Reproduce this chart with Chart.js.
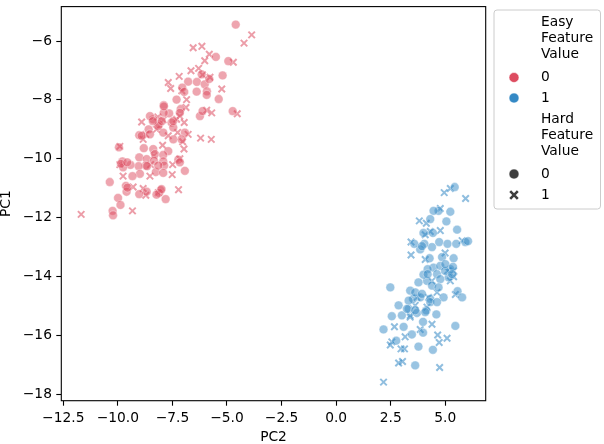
<!DOCTYPE html>
<html>
<head>
<meta charset="utf-8">
<script src="https://cdn.jsdelivr.net/npm/chart.js@4.4.0/dist/chart.umd.min.js"></script>
<style>
  html, body { margin: 0; padding: 0; background: #fff; }
  #wrap { width: 604px; height: 444px; }
</style>
</head>
<body>
<div id="wrap"><canvas id="pcaChart" width="604" height="444"></canvas></div>
<script>
// tick values and legend text
const xTicks = [-12.5, -10, -7.5, -5, -2.5, 0, 2.5, 5];
const yTicks = [-18, -16, -14, -12, -10, -8, -6];
const easyTitle = ['Easy', 'Feature', 'Value'];
const hardTitle = ['Hard', 'Feature', 'Value'];
const levels = ['0', '1'];

// points: [PC2, PC1]
const easy0Hard0 = [[-4.60,-5.44],[-5.51,-6.54],[-4.94,-6.68],[-5.20,-7.17],[-6.16,-7.13],[-6.78,-7.38],[-6.38,-7.39],[-6.02,-7.47],[-7.05,-7.58],[-6.39,-7.72],[-5.92,-7.71],[-5.93,-7.83],[-7.31,-7.99],[-5.38,-7.97],[-7.12,-8.31],[-7.90,-8.18],[-6.24,-8.55],[-6.12,-8.38],[-4.74,-8.38],[-7.16,-8.44],[-7.65,-8.46],[-7.90,-8.44],[-8.38,-8.66],[-8.53,-8.55],[-8.11,-8.83],[-7.54,-8.77],[-7.46,-8.94],[-8.59,-9.00],[-9.02,-9.20],[-7.92,-9.11],[-7.46,-9.34],[-6.93,-9.11],[-7.08,-9.34],[-8.81,-9.64],[-9.95,-9.61],[-8.38,-9.67],[-8.30,-9.84],[-7.69,-9.74],[-7.92,-9.87],[-9.02,-9.95],[-8.68,-10.01],[-8.34,-10.07],[-8.72,-10.23],[-9.05,-10.25],[-7.92,-10.09],[-7.88,-10.23],[-7.23,-10.03],[-9.42,-10.21],[-9.79,-10.09],[-9.76,-10.29],[-8.26,-10.45],[-7.92,-10.48],[-8.99,-10.51],[-6.93,-10.41],[-9.33,-10.59],[-10.37,-10.79],[-9.63,-10.92],[-8.68,-11.12],[-9.02,-11.20],[-9.60,-11.12],[-8.04,-11.07],[-8.11,-11.16],[-8.23,-11.22],[-7.81,-11.37],[-9.99,-11.33],[-9.88,-11.57],[-10.24,-11.77],[-10.22,-11.92],[-9.56,-10.98],[-8.00,-11.03],[-9.86,-10.17],[-9.57,-10.12],[-8.15,-10.23],[-7.16,-10.12],[-8.91,-9.22],[-8.53,-9.17],[-8.15,-8.89],[-7.46,-8.72],[-8.40,-8.72],[-7.89,-8.22],[-8.66,-10.25],[-5.81,-7.29],[-6.96,-7.73],[-7.99,-8.72]];
const easy0Hard1 = [[-3.87,-5.79],[-4.22,-6.07],[-6.55,-6.23],[-6.15,-6.18],[-5.81,-6.45],[-6.02,-6.67],[-4.71,-6.72],[-6.30,-6.93],[-6.65,-7.01],[-5.78,-7.23],[-7.19,-7.20],[-7.69,-7.41],[-7.58,-7.61],[-7.07,-7.69],[-5.24,-7.63],[-6.85,-7.99],[-6.88,-8.26],[-5.93,-8.35],[-5.70,-8.44],[-4.53,-8.47],[-8.17,-8.58],[-8.91,-8.75],[-7.92,-8.68],[-7.31,-8.66],[-6.96,-8.77],[-8.23,-9.00],[-8.84,-9.34],[-7.69,-9.22],[-6.78,-9.17],[-7.03,-9.42],[-6.21,-9.30],[-5.72,-9.34],[-9.91,-9.58],[-7.95,-9.54],[-6.97,-9.67],[-8.50,-10.20],[-9.91,-10.20],[-7.16,-10.00],[-7.49,-10.20],[-8.53,-10.59],[-7.51,-10.54],[-9.76,-10.59],[-9.30,-10.96],[-8.84,-11.01],[-7.22,-11.05],[-9.33,-11.77],[-11.68,-11.89],[-8.15,-11.15],[-8.72,-11.24],[-8.35,-9.89],[-7.26,-9.11],[-8.72,-9.17],[-7.16,-8.55],[-6.12,-7.15]];
const easy1Hard0 = [[5.43,-10.96],[5.23,-11.80],[4.69,-11.77],[4.46,-11.77],[5.05,-12.13],[4.31,-12.05],[5.54,-12.41],[4.43,-12.52],[4.00,-12.52],[4.72,-12.83],[5.10,-12.89],[5.50,-12.89],[5.92,-12.83],[6.04,-12.80],[4.39,-13.00],[4.04,-12.89],[3.85,-13.08],[3.58,-12.89],[4.28,-13.38],[4.85,-13.34],[5.38,-13.38],[4.46,-13.70],[4.77,-13.64],[5.23,-13.75],[4.19,-13.75],[4.62,-13.92],[5.15,-14.03],[4.77,-14.09],[4.16,-14.15],[3.77,-14.20],[4.39,-14.31],[4.69,-14.37],[2.48,-14.37],[3.39,-14.48],[5.56,-14.50],[5.77,-14.71],[4.92,-14.71],[4.31,-14.76],[3.85,-14.71],[3.52,-14.76],[2.86,-14.98],[3.32,-15.10],[4.13,-15.15],[4.59,-15.29],[3.70,-15.24],[3.01,-15.32],[2.55,-15.35],[3.98,-15.54],[3.09,-15.71],[2.17,-15.80],[5.46,-15.68],[3.98,-15.91],[3.47,-15.97],[2.75,-16.18],[3.77,-16.38],[4.43,-16.49],[3.62,-17.02],[4.99,-13.81],[4.00,-13.94],[3.93,-12.97],[5.00,-13.58],[5.35,-13.67],[4.19,-13.92],[5.31,-13.92],[3.62,-14.54],[3.93,-14.59],[3.32,-14.82],[4.31,-14.87],[4.62,-14.87],[3.24,-15.10],[3.62,-15.15],[4.08,-15.21]];
const easy1Hard1 = [[4.95,-11.15],[5.23,-11.01],[5.93,-11.35],[3.81,-12.11],[4.13,-12.19],[4.77,-11.69],[4.31,-12.47],[4.77,-12.44],[3.43,-12.83],[5.77,-12.78],[3.43,-13.27],[4.08,-13.42],[4.99,-13.20],[5.38,-14.01],[5.10,-13.81],[5.46,-14.61],[3.70,-14.71],[3.39,-15.38],[4.39,-15.62],[3.85,-15.80],[2.67,-15.71],[3.16,-16.05],[4.65,-15.99],[5.08,-16.10],[4.72,-16.24],[2.55,-16.22],[2.48,-16.33],[2.97,-16.46],[3.13,-16.46],[2.86,-16.94],[3.04,-16.89],[4.74,-17.09],[2.17,-17.59],[4.16,-15.04],[4.08,-12.58],[4.39,-14.15],[5.23,-14.15],[4.62,-14.54],[3.62,-14.98],[4.23,-14.71],[3.39,-15.32],[5.38,-13.81]];

const RED = '221,76,96';
const BLUE = '52,137,197';
const FONT = 'DejaVu Sans';

function pts(arr) { return arr.map(p => ({ x: p[0], y: p[1] })); }
function fmtMinus(s) { return s.replace('-', '\u2212'); }

function circleSet(arr, rgb) {
  return {
    data: pts(arr), pointStyle: 'circle', pointRadius: 4.4,
    pointBackgroundColor: 'rgba(' + rgb + ',0.5)',
    pointBorderColor: 'rgba(255,255,255,0.55)', pointBorderWidth: 0.7
  };
}
function crossSet(arr, rgb) {
  return {
    data: pts(arr), pointStyle: 'crossRot', pointRadius: 4.6,
    pointBorderColor: 'rgba(' + rgb + ',0.55)', pointBorderWidth: 2
  };
}

// frame on all four sides + the two-part legend on the right
const frameLegend = {
  id: 'frameLegend',
  afterDraw(chart) {
    const ctx = chart.ctx, a = chart.chartArea;
    ctx.save();
    ctx.strokeStyle = '#000';
    ctx.lineWidth = 1.1;
    ctx.strokeRect(a.left, a.top, a.right - a.left, a.bottom - a.top);

    // legend box
    const bx = 494, by = 10, bw = 106.5, bh = 199, r = 3;
    ctx.beginPath();
    ctx.moveTo(bx + r, by);
    ctx.arcTo(bx + bw, by, bx + bw, by + bh, r);
    ctx.arcTo(bx + bw, by + bh, bx, by + bh, r);
    ctx.arcTo(bx, by + bh, bx, by, r);
    ctx.arcTo(bx, by, bx + bw, by, r);
    ctx.closePath();
    ctx.fillStyle = 'rgba(255,255,255,0.8)';
    ctx.fill();
    ctx.strokeStyle = '#cccccc';
    ctx.lineWidth = 1;
    ctx.stroke();

    ctx.font = '13.8px "' + FONT + '"';
    ctx.fillStyle = '#000';
    ctx.textBaseline = 'middle';
    ctx.textAlign = 'left';
    const tx = 541, mx = 514;
    easyTitle.forEach((t, i) => ctx.fillText(t, tx, 22 + i * 16));
    hardTitle.forEach((t, i) => ctx.fillText(t, tx, 119 + i * 16));

    function dot(y, fill) {
      ctx.beginPath();
      ctx.arc(mx, y, 5, 0, Math.PI * 2);
      ctx.fillStyle = fill;
      ctx.fill();
      ctx.strokeStyle = 'rgba(255,255,255,0.8)';
      ctx.lineWidth = 0.7;
      ctx.stroke();
    }
    [RED, BLUE].forEach((c, i) => {
      const y = 77.5 + i * 20.5;
      dot(y, 'rgb(' + c + ')');
      ctx.fillStyle = '#000';
      ctx.fillText(levels[i], tx, y);
    });
    const y0 = 174, y1 = 195;
    dot(y0, '#3d3d3d');
    ctx.fillStyle = '#000';
    ctx.fillText(levels[0], tx, y0);
    ctx.strokeStyle = '#3d3d3d';
    ctx.lineWidth = 2.6;
    ctx.beginPath();
    ctx.moveTo(mx - 3.8, y1 - 3.8); ctx.lineTo(mx + 3.8, y1 + 3.8);
    ctx.moveTo(mx - 3.8, y1 + 3.8); ctx.lineTo(mx + 3.8, y1 - 3.8);
    ctx.stroke();
    ctx.fillText(levels[1], tx, y1);
    ctx.restore();
  }
};

const xTickFont = { family: FONT, size: 13.8 };
// small line height + zero padding: the y scale adds half a label height on
// top of the layout padding, so this keeps the plot top near 2.5px; the gap
// to the tick marks comes from a trailing space in the label instead
const yTickFont = { family: FONT, size: 13.8, lineHeight: 0.36 };

new Chart(document.getElementById('pcaChart').getContext('2d'), {
  type: 'scatter',
  data: {
    datasets: [
      circleSet(easy0Hard0, RED),
      crossSet(easy0Hard1, RED),
      circleSet(easy1Hard0, BLUE),
      crossSet(easy1Hard1, BLUE)
    ]
  },
  options: {
    responsive: false,
    animation: false,
    events: [],
    layout: { padding: { top: 0, right: 118.3, left: 0, bottom: 0 } },
    plugins: { legend: { display: false }, tooltip: { enabled: false } },
    scales: {
      x: {
        type: 'linear', min: -12.59, max: 6.85,
        afterBuildTicks: s => { s.ticks = xTicks.map(v => ({ value: v })); },
        afterFit: s => { s.height = 43.3; },
        ticks: {
          color: '#000', font: xTickFont, padding: 4.5,
          callback: v => fmtMinus(v.toFixed(1))
        },
        grid: { drawOnChartArea: false, drawTicks: true, tickLength: 5, tickColor: '#000', tickWidth: 1.1 },
        border: { display: false },
        title: { display: true, text: 'PC2', color: '#000', font: { family: FONT, size: 13.8, lineHeight: 1 }, padding: 0 }
      },
      y: {
        type: 'linear', min: -18.22, max: -4.83,
        afterBuildTicks: s => { s.ticks = yTicks.map(v => ({ value: v })); },
        afterFit: s => { s.width = 61.3; },
        ticks: {
          color: '#000', font: yTickFont, padding: 0,
          callback: v => fmtMinus(String(v)) + ' '
        },
        grid: { drawOnChartArea: false, drawTicks: true, tickLength: 5, tickColor: '#000', tickWidth: 1.1 },
        border: { display: false },
        title: { display: true, text: 'PC1', color: '#000', font: { family: FONT, size: 13.8, lineHeight: 0.9 }, padding: 0 }
      }
    }
  },
  plugins: [frameLegend]
});
</script>
</body>
</html>
